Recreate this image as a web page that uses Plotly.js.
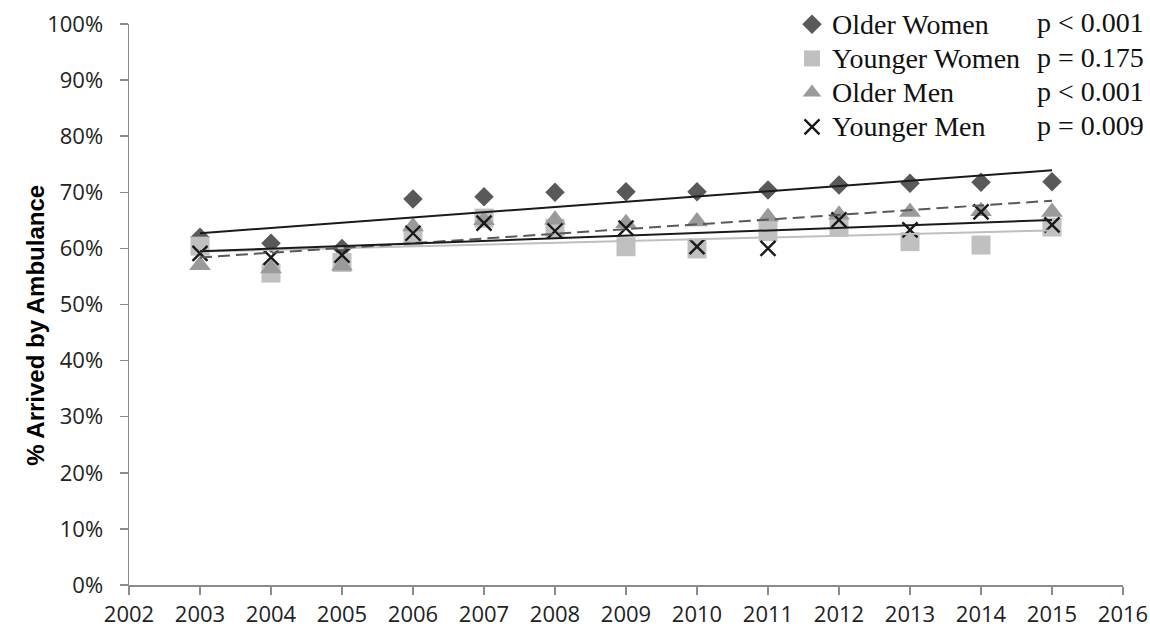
<!DOCTYPE html>
<html><head><meta charset="utf-8">
<script src="https://cdn.plot.ly/plotly-3.0.1.min.js"></script>
<style>html,body{margin:0;padding:0;background:#fff}#chart{width:1150px;height:630px}</style>
</head><body><div id="chart"></div>
<script>
const years = [2003, 2004, 2005, 2006, 2007, 2008, 2009, 2010, 2011, 2012, 2013, 2014, 2015];
const olderWomen   = [62.0, 60.9, 60.0, 68.8, 69.2, 70.0, 70.1, 70.1, 70.4, 71.3, 71.6, 71.8, 71.9];
const youngerWomen = [60.4, 55.6, 57.5, 62.0, 65.4, 63.6, 60.3, 59.9, 63.0, 63.8, 61.2, 60.6, 63.8];
const olderMen     = [57.0, 56.4, 56.9, 63.9, 65.0, 65.1, 64.5, 64.8, 65.6, 66.0, 66.5, 66.6, 66.5];
const youngerMen   = [59.1, 58.4, 58.8, 62.7, 64.5, 63.1, 63.6, 60.3, 60.0, 65.1, 63.3, 66.5, 64.2];
const seriesNames = ['Older Women', 'Younger Women', 'Older Men', 'Younger Men'];
const pValues = ['p < 0.001', 'p = 0.175', 'p < 0.001', 'p = 0.009'];
const xTickVals = [2002, 2003, 2004, 2005, 2006, 2007, 2008, 2009, 2010, 2011, 2012, 2013, 2014, 2015, 2016];
const yTickVals = [0, 10, 20, 30, 40, 50, 60, 70, 80, 90, 100];
const yTitle = '% Arrived by Ambulance';

function linFit(xs, ys) {
  const n = xs.length;
  const mx = xs.reduce((a, b) => a + b, 0) / n;
  const my = ys.reduce((a, b) => a + b, 0) / n;
  let sxy = 0, sxx = 0;
  for (let i = 0; i < n; i++) { sxy += (xs[i] - mx) * (ys[i] - my); sxx += (xs[i] - mx) ** 2; }
  const b = sxy / sxx, a = my - b * mx;
  const x0 = xs[0], x1 = xs[n - 1];
  return { x: [x0, x1], y: [a + b * x0, a + b * x1] };
}

const allSeries = [olderWomen, youngerWomen, olderMen, youngerMen];
const markerStyles = [
  { symbol: 'diamond', size: 15, color: '#595959' },
  { symbol: 'square', size: 19, color: '#c0c0c0' },
  { symbol: 'triangle-up', size: 19, color: '#9a9a9a' },
  { symbol: 'x-thin', size: 15, color: '#1a1a1a', line: { color: '#1a1a1a', width: 2.4 } }
];
const trendStyles = [
  { color: '#1a1a1a', width: 2, dash: 'solid' },
  { color: '#bfbfbf', width: 2, dash: 'solid' },
  { color: '#595959', width: 2, dash: '12px,6px' },
  { color: '#1a1a1a', width: 2, dash: 'solid' }
];

const traces = [];
allSeries.forEach((s, i) => {
  traces.push({
    type: 'scatter', mode: 'markers', x: years, y: s,
    name: '<span style="font-size:28px">' + seriesNames[i] + '</span>',
    marker: Object.assign({}, markerStyles[i]), cliponaxis: false
  });
});
allSeries.forEach((s, i) => {
  const f = linFit(years, s);
  traces.push({ type: 'scatter', mode: 'lines', x: f.x, y: f.y, showlegend: false, hoverinfo: 'skip', line: trendStyles[i] });
});

const rowY = [1.0018, 0.9408, 0.8798, 0.8189];
const pAnn = pValues.map((p, i) => ({
  xref: 'paper', yref: 'paper', x: 1.023, y: rowY[i],
  xanchor: 'right', yanchor: 'middle', showarrow: false, text: p,
  font: { family: 'Liberation Serif, Times New Roman, serif', size: 28, color: '#111' }
}));
const titleAnn = {
  xref: 'paper', yref: 'paper', x: -0.094, y: 0.463, xanchor: 'center', yanchor: 'middle',
  showarrow: false, textangle: -90, text: yTitle,
  font: { family: 'Liberation Sans, Arial, sans-serif', size: 24, color: '#000', weight: 'bold' }
};

const layout = {
  width: 1150, height: 630,
  margin: { l: 129, r: 27, t: 24, b: 45, autoexpand: false },
  paper_bgcolor: '#fff', plot_bgcolor: '#fff',
  showlegend: true,
  legend: {
    x: 0.667, y: 1.039, xanchor: 'left', yanchor: 'top',
    bgcolor: 'rgba(0,0,0,0)', borderwidth: 0,
    font: { family: 'Liberation Serif, Times New Roman, serif', size: 24, color: '#111' },
    itemwidth: 30
  },
  xaxis: {
    range: [2002, 2016], tickvals: xTickVals, ticktext: xTickVals.map(String),
    showgrid: false, zeroline: false, showline: true, linecolor: '#8c8c8c', linewidth: 1.5,
    ticks: 'outside', ticklen: 8, tickwidth: 1.5, tickcolor: '#8c8c8c',
    tickfont: { family: 'Open Sans, sans-serif', size: 22, color: '#222' },
    ticklabelstandoff: 1
  },
  yaxis: {
    range: [0, 100], tickvals: yTickVals, ticktext: yTickVals.map(v => v + '%'),
    showgrid: false, zeroline: false, showline: true, linecolor: '#8c8c8c', linewidth: 1.5,
    ticks: 'outside', ticklen: 8, tickwidth: 1.5, tickcolor: '#8c8c8c',
    tickfont: { family: 'Open Sans, sans-serif', size: 22, color: '#222' },
    ticklabelstandoff: 12
  },
  annotations: pAnn.concat([titleAnn])
};

Plotly.newPlot('chart', traces, layout, { displayModeBar: false, staticPlot: true });
</script>
</body></html>
